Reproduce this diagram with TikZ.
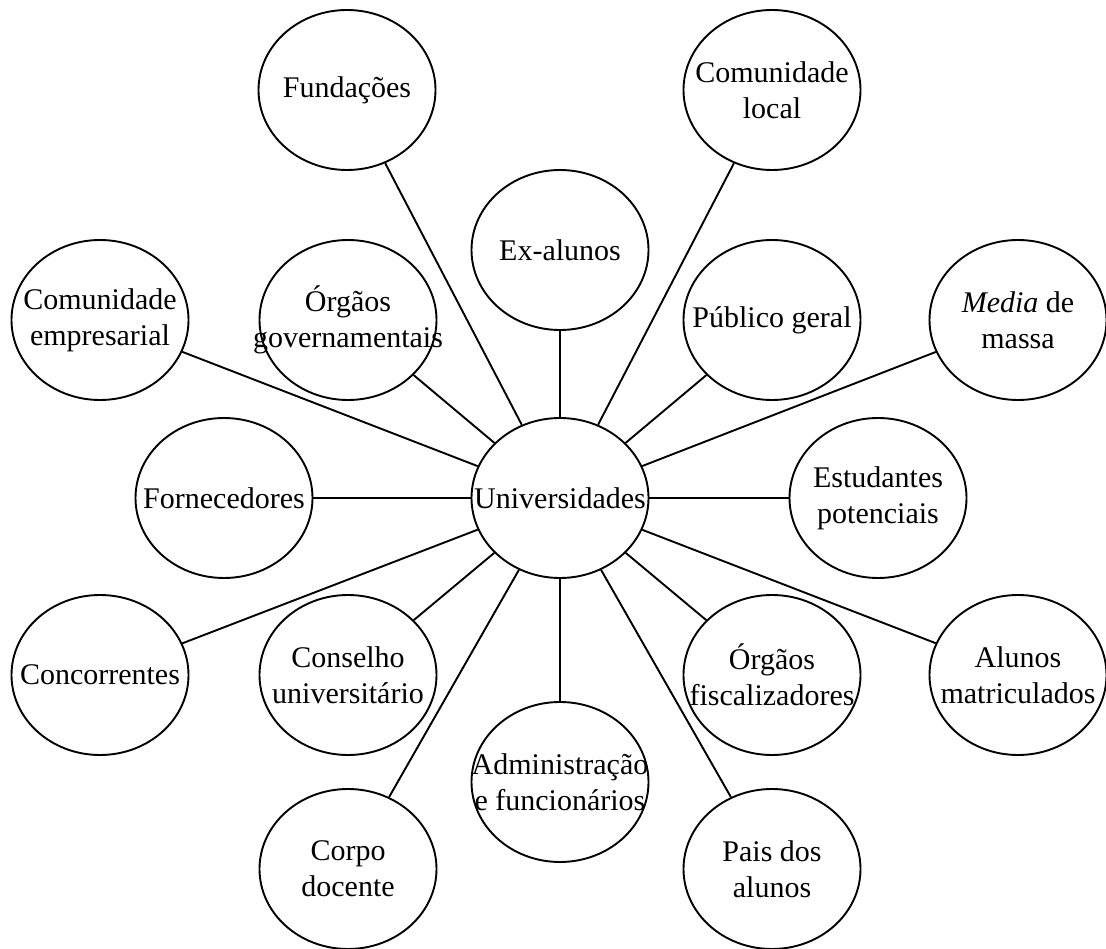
\documentclass[tikz,border=0pt]{standalone}
\usepackage{fontspec}
\setmainfont{Liberation Serif}
\usetikzlibrary{shapes.geometric}
\begin{document}
\begin{tikzpicture}[x=1pt,y=-1pt,
  bub/.style={draw,line width=1.9pt,ellipse,minimum width=177pt,minimum height=160pt,inner sep=0pt},
  lbl/.style={align=center,inner sep=0pt,font=\fontsize{30pt}{36pt}\selectfont},
  con/.style={line width=1.9pt}]
\useasboundingbox (0,0) rectangle (1106,949);
\node[bub] (fund) at (347,90) {};
\node[bub] (comloc) at (772,90) {};
\node[bub] (exal) at (560,250) {};
\node[bub] (comemp) at (100,320) {};
\node[bub] (orggov) at (348,320) {};
\node[bub] (pubger) at (772,320) {};
\node[bub] (media) at (1018,320) {};
\node[bub] (forn) at (224,498) {};
\node[bub] (univ) at (560,498) {};
\node[bub] (estud) at (878,498) {};
\node[bub] (conc) at (100,675) {};
\node[bub] (cons) at (348,675) {};
\node[bub] (orgfis) at (772,675) {};
\node[bub] (alunos) at (1018,675) {};
\node[bub] (admin) at (560,782) {};
\node[bub] (corpo) at (348,869) {};
\node[bub] (pais) at (772,869) {};
\node[lbl] (tfund) at (fund) {Fundações};
\node[lbl] (tcomloc) at (comloc) {Comunidade\\local};
\node[lbl] (texal) at (exal) {Ex-alunos};
\node[lbl] (tcomemp) at (comemp) {Comunidade\\empresarial};
\node[lbl] (torggov) at (orggov) {Órgãos\\governamentais};
\node[lbl] (tpubger) at (pubger) {Público geral};
\node[lbl] (tmedia) at (media) {\textit{Media} de\\massa};
\node[lbl] (tforn) at (forn) {Fornecedores};
\node[lbl] (tuniv) at (univ) {Universidades};
\node[lbl] (testud) at (estud) {Estudantes\\potenciais};
\node[lbl] (tconc) at (conc) {Concorrentes};
\node[lbl] (tcons) at (cons) {Conselho\\universitário};
\node[lbl] (torgfis) at (orgfis) {Órgãos\\fiscalizadores};
\node[lbl] (talunos) at (alunos) {Alunos\\matriculados};
\node[lbl] (tadmin) at (admin) {Administração\\e funcionários};
\node[lbl] (tcorpo) at (corpo) {Corpo\\docente};
\node[lbl] (tpais) at (pais) {Pais dos\\alunos};
\foreach \n in {fund,comloc,exal,comemp,orggov,pubger,media,forn,estud,conc,cons,orgfis,alunos,admin,corpo,pais}
  \draw[con] (univ) -- (\n);
\end{tikzpicture}
\end{document}
